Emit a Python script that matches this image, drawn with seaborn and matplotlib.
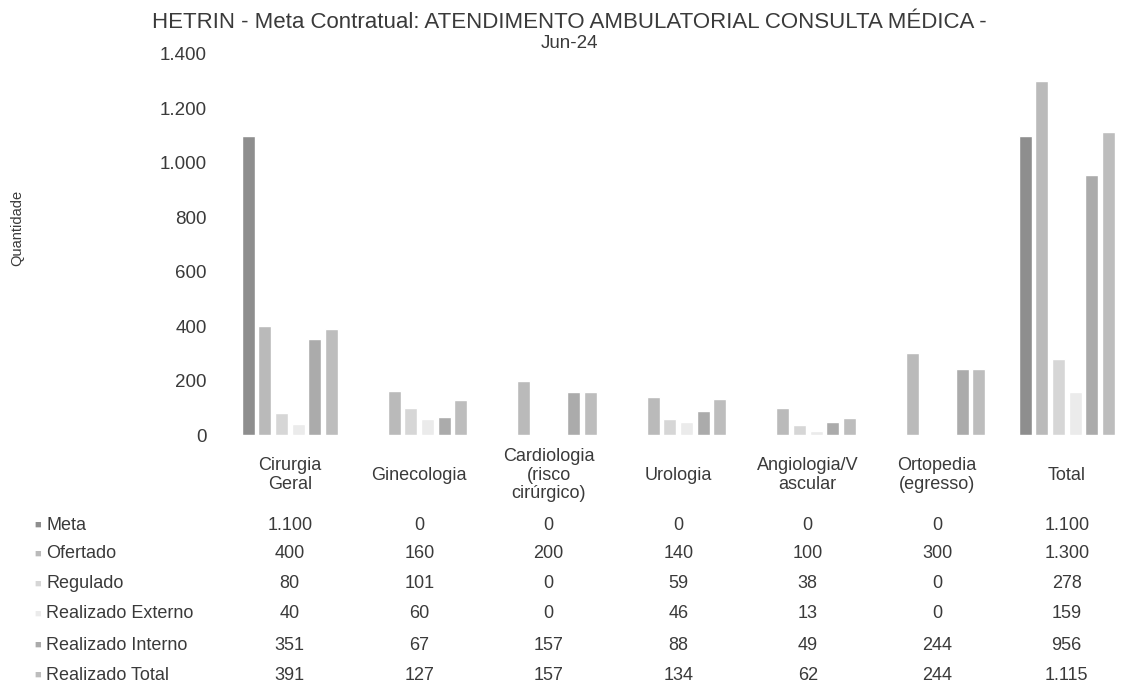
import matplotlib
matplotlib.use("Agg")
import matplotlib.pyplot as plt
import seaborn as sns
import pandas as pd

categorias = ["Cirurgia\nGeral", "Ginecologia", "Cardiologia\n(risco\ncirúrgico)", "Urologia",
              "Angiologia/V\nascular", "Ortopedia\n(egresso)", "Total"]
series = ["Meta", "Ofertado", "Regulado", "Realizado Externo", "Realizado Interno", "Realizado Total"]
meta = [1100, 0, 0, 0, 0, 0, 1100]
ofertado = [400, 160, 200, 140, 100, 300, 1300]
regulado = [80, 101, 0, 59, 38, 0, 278]
realizado_externo = [40, 60, 0, 46, 13, 0, 159]
realizado_interno = [351, 67, 157, 88, 49, 244, 956]
realizado_total = [391, 127, 157, 134, 62, 244, 1115]
yticks = [0, 200, 400, 600, 800, 1000, 1200, 1400]

valores = [meta, ofertado, regulado, realizado_externo, realizado_interno, realizado_total]
cores = ["#8e8e8e", "#bababa", "#d6d6d6", "#ebebeb", "#ababab", "#bdbdbd"]

rows = []
for s, vals in zip(series, valores):
    for c, v in zip(categorias, vals):
        rows.append({"categoria": c, "serie": s, "valor": v})
df = pd.DataFrame(rows)


def fmt(v):
    return f"{v:,}".replace(",", ".")


sns.set_style("white")
plt.rcParams["font.family"] = ["Liberation Sans", "DejaVu Sans"]

W, H = 1122, 693
fig = plt.figure(figsize=(W / 100, H / 100), dpi=100)
# area do grafico: eixo x de 225 a ~1131 px, zero em 435 px, 1.400 em 54 px
ax = fig.add_axes([225 / W, (H - 435) / H, 906.5 / W, 381 / H])

sns.barplot(data=df, x="categoria", y="valor", hue="serie", palette=cores,
            width=0.77, gap=0.22, ax=ax, legend=False, saturation=1)

ax.set_ylim(0, 1400)
ax.set_xlim(-0.5, len(categorias) - 0.5)
ax.set_yticks(yticks)
ax.set_yticklabels([fmt(t) for t in yticks], fontsize=13.5, color="#3a3a3a")
ax.tick_params(axis="y", length=0, pad=13)
ax.set_xticks([])
ax.set_xlabel("")
ax.set_ylabel("")
sns.despine(ax=ax, left=True, bottom=True)

fig.text(17 / W, 1 - 228 / H, "Quantidade", rotation=90, va="center", ha="center",
         fontsize=10.5, color="#3a3a3a")
fig.text(569 / W, 1 - 22 / H, "HETRIN - Meta Contratual: ATENDIMENTO AMBULATORIAL CONSULTA MÉDICA -",
         ha="center", va="center", fontsize=16, color="#3a3a3a")
fig.text(569 / W, 1 - 43 / H, "Jun-24", ha="center", va="center", fontsize=13.5, color="#3a3a3a")

# tabela de dados
trans = ax.get_xaxis_transform()


def yfrac(ypx):
    return (435 - ypx) / 381


for i, c in enumerate(categorias):
    ax.text(i, yfrac(475), c, transform=trans, ha="center", va="center", fontsize=13,
            color="#3a3a3a", linespacing=1.15)

row_y = [525, 554, 584, 614, 645, 675]
for s, vals, cor, ypx in zip(series, valores, cores, row_y):
    fig.text(34 / W, 1 - ypx / H, "■", fontsize=8, color=cor, va="center", ha="left")
    fig.text(46 / W, 1 - ypx / H, s, fontsize=13, color="#3a3a3a", va="center", ha="left")
    for i, v in enumerate(vals):
        ax.text(i, yfrac(ypx), fmt(v), transform=trans, ha="center", va="center",
                fontsize=13, color="#3a3a3a")

fig.savefig("out.png", dpi=100)
